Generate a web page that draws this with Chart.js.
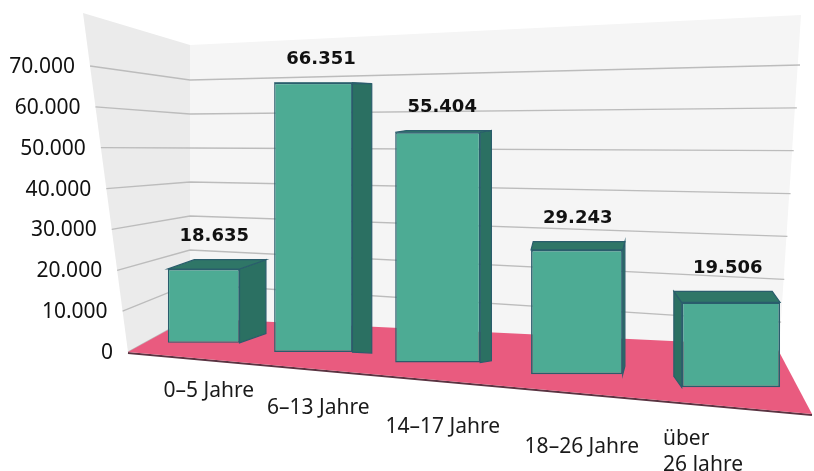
<!DOCTYPE html>
<html lang="de">
<head>
<meta charset="utf-8">
<script src="https://cdn.jsdelivr.net/npm/chart.js@4.4.1/dist/chart.umd.min.js"></script>
<style>
  html, body { margin: 0; padding: 0; background: #fff; }
  #wrap { position: relative; width: 814px; height: 471px; }
</style>
</head>
<body>
<div id="wrap"><canvas id="chart"></canvas></div>
<script>
const categories = ["0–5 Jahre", "6–13 Jahre", "14–17 Jahre", "18–26 Jahre", ["über", "26 Jahre"]];
const values = [18635, 66351, 55404, 29243, 19506];
const yTicks = [0, 10000, 20000, 30000, 40000, 50000, 60000, 70000];

const numFormat = new Intl.NumberFormat("de-DE", { maximumFractionDigits: 0 });
// fake perspective settings
const SHEAR = 0.0845; // floor drops towards the right
const WARP = 7.4; // bars get wider / further apart towards the right

function lerp(a, b, t) {
  return a + (b - a) * t;
}

function poly(ctx, pts, fill, stroke, lw) {
  ctx.beginPath();
  pts.forEach((p, i) => (i ? ctx.lineTo(p[0], p[1]) : ctx.moveTo(p[0], p[1])));
  ctx.closePath();
  if (fill) {
    ctx.fillStyle = fill;
    ctx.fill();
  }
  if (stroke) {
    ctx.strokeStyle = stroke;
    ctx.lineWidth = lw || 1;
    ctx.stroke();
  }
}

// where a bar centred at x (chart pixels) ends up on screen
function project(chart, x) {
  const xs = chart.scales.x;
  const first = xs.getPixelForValue(0);
  const last = xs.getPixelForValue(categories.length - 1);
  const step = (last - first) / (categories.length - 1);
  const u = (x - (first + last) / 2) / step;
  const px = x + WARP * (u * u - 2);
  const k = 1 + (0.7 * 2 * WARP * u) / step;
  return {
    x: px,
    k: k,
    kv: 1 + 0.3 * (k - 1),
    dy: SHEAR * (px - chart.chartArea.left),
  };
}

// screen geometry of one bar incl. its 3d offset
function barBox(chart, bar) {
  const p = bar.getProps(["x", "y", "base", "width"], true);
  const pr = project(chart, p.x);
  const half = (p.width / 2) * pr.k;
  const bottom = p.base + pr.dy;
  const top = bottom - (p.base - p.y) * pr.kv;
  return {
    x: pr.x,
    x1: pr.x - half,
    x2: pr.x + half,
    top: top,
    bottom: bottom,
    dx: (610 - pr.x) * 0.065,
    dy: -(top - 100) * 0.055,
  };
}

const perspective3d = {
  id: "perspective3d",
  afterUpdate(chart) {
    chart.getDatasetMeta(0).data.forEach((el) => {
      if (el._projected) return;
      el._projected = true;
      const draw = el.draw;
      el.draw = function (ctx) {
        const pr = project(chart, this.x);
        ctx.save();
        ctx.translate(pr.x, this.base + pr.dy);
        ctx.scale(pr.k, pr.kv);
        ctx.translate(-this.x, -this.base);
        draw.call(this, ctx);
        ctx.restore();
      };
    });
  },
  beforeDatasetsDraw(chart) {
    const ctx = chart.ctx;
    const yScale = chart.scales.y;
    const zero = yScale.getPixelForValue(0);
    const top = yScale.getPixelForValue(yTicks[yTicks.length - 1]);

    ctx.save();
    // walls
    poly(ctx, [[83, 13], [190, 45], [190, 318], [128, 352]], "#ebebeb");
    poly(ctx, [[190, 45], [801, 15], [778, 365], [190, 318]], "#f5f5f5");

    // grid lines + y labels
    ctx.font = '21px "Noto Sans"';
    ctx.textAlign = "right";
    ctx.textBaseline = "middle";
    yTicks.forEach((v) => {
      const t = (zero - yScale.getPixelForValue(v)) / (zero - top);
      const fy = lerp(352, 66, t);
      const fx = lerp(128, 83, (352 - fy) / 339);
      ctx.beginPath();
      ctx.moveTo(fx, fy);
      ctx.lineTo(190, lerp(318, 80, t));
      ctx.lineTo(lerp(778, 800, t), lerp(365, 65, t));
      ctx.strokeStyle = "#bcbcbc";
      ctx.lineWidth = 1.3;
      ctx.stroke();
      ctx.fillStyle = "#111";
      ctx.fillText(numFormat.format(v), fx - 15, fy + 1);
    });

    // floor
    ctx.beginPath();
    ctx.moveTo(128, 353);
    ctx.lineTo(812, 415);
    ctx.strokeStyle = "#5b3442";
    ctx.lineWidth = 2;
    ctx.stroke();
    poly(ctx, [[128, 352], [190, 318], [776, 346], [812, 414]], "#e95b7f");

    // side and top faces, behind the front faces
    chart.getDatasetMeta(0).data.forEach((bar) => {
      const b = barBox(chart, bar);
      const sx = b.dx >= 0 ? b.x2 : b.x1;
      poly(ctx, [[sx, b.top], [sx + b.dx, b.top + b.dy], [sx + b.dx, b.bottom + b.dy], [sx, b.bottom]], "#2b7062", "#2a5d6c", 1.2);
      poly(ctx, [[b.x1, b.top], [b.x2, b.top], [b.x2 + b.dx, b.top + b.dy], [b.x1 + b.dx, b.top + b.dy]], "#2f7667", "#2a5d6c", 1.2);
    });
    ctx.restore();
  },
  afterDatasetsDraw(chart) {
    const ctx = chart.ctx;
    const area = chart.chartArea;
    const bars = chart.getDatasetMeta(0).data.map((bar) => barBox(chart, bar));

    // value labels
    ctx.save();
    ctx.font = 'bold 18px "DejaVu Sans"';
    ctx.fillStyle = "#111";
    ctx.textAlign = "center";
    ctx.textBaseline = "middle";
    bars.forEach((b, i) => {
      const ly = Math.min(b.top, b.top + b.dy) - 23;
      ctx.fillText(numFormat.format(values[i]), b.x + b.dx * 0.4, ly);
    });

    // category labels, stepping down along the floor
    ctx.font = '21px "Noto Sans"';
    ctx.fillStyle = "#1a1a1a";
    categories.forEach((label, i) => {
      const b = bars[i];
      if (Array.isArray(label)) {
        ctx.textAlign = "left";
        const lx = b.x - 68;
        const ly = area.bottom + 51 + 0.15 * (b.x - 212);
        label.forEach((line, k) => {
          ctx.fillText(line, lx, ly - (label.length - 1 - k) * 26);
        });
      } else {
        ctx.textAlign = "center";
        const lx = b.x + 5;
        ctx.fillText(label, lx, area.bottom + 56 + 0.15 * (lx - 212));
      }
    });
    ctx.restore();
  },
};

new Chart(document.getElementById("chart"), {
  type: "bar",
  data: {
    labels: categories,
    datasets: [
      {
        data: values,
        backgroundColor: "#4dab94",
        borderColor: "#2a5d6c",
        borderWidth: 1.5,
        borderSkipped: false,
        barPercentage: 0.645,
        categoryPercentage: 1,
        clip: false,
      },
    ],
  },
  options: {
    responsive: true,
    maintainAspectRatio: false,
    animation: false,
    layout: { padding: { left: 123, right: 32, top: 45, bottom: 135 } },
    plugins: { legend: { display: false }, tooltip: { enabled: false } },
    scales: {
      x: { display: false },
      y: { display: false, min: 0, max: 70000, ticks: { stepSize: 10000 } },
    },
  },
  plugins: [perspective3d],
});
</script>
</body>
</html>
